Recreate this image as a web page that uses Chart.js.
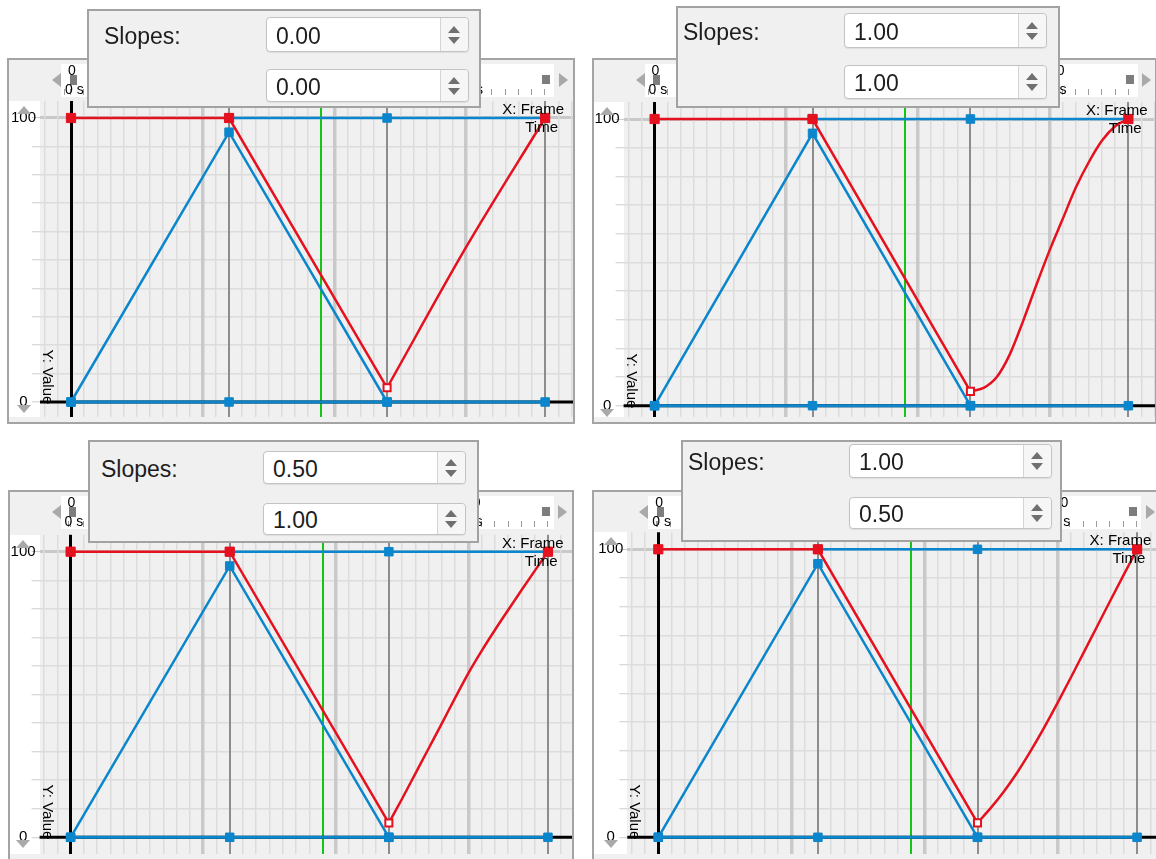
<!DOCTYPE html>
<html>
<head>
<meta charset="utf-8">
<title>Slopes</title>
<script src="https://cdn.jsdelivr.net/npm/chart.js"></script>
<style>
  html, body { margin: 0; padding: 0; background: #fff; }
  body { width: 1156px; height: 859px; position: relative; overflow: hidden; font-family: "Liberation Sans", Arial, sans-serif; }
  .frame { position: absolute; box-sizing: border-box; border: 2px solid #a4a4a4; background: #f0f0f0; overflow: hidden; }
  .strip { position: absolute; background: #fff; }
  .overlay { position: absolute; box-sizing: border-box; border: 2px solid #a2a2a2; background: #f0f0f0; z-index: 5; }
  .spin { position: absolute; box-sizing: border-box; border: 1px solid #c3c3c3; border-radius: 4px; background: #fff; box-shadow: 0 1px 1px rgba(0,0,0,.08); }
  .spin .btn { position: absolute; right: 0; top: 0; bottom: 0; width: 27px; border-left: 1px solid #d4d4d4; background: #f6f6f6; border-radius: 0 4px 4px 0; }
  .tri { position: absolute; width: 0; height: 0; }
  .lbl { position: absolute; white-space: nowrap; color: #000; line-height: 1; }
  canvas { position: absolute; left: 0; top: 0; }
</style>
</head>
<body>
<script>
// keyframes (x = frame, y = value)
const keyFrames = [0, 12, 24, 36];
const currentFrame = 19;
const blueRiseValues = [0, 95, 0];       // frames 0, 12, 24
const blueTopValues = [100, 100, 100];   // frames 12, 24, 36
const blueBaseValues = [0, 0, 0, 0];     // frames 0, 12, 24, 36
const redKeyValues = [100, 100, 5];      // frames 0, 12, 24
const yTickLabels = ['0', '100'];

// slope spin box values per panel
const slopeFirst = ['0.00', '1.00', '0.50', '1.00'];
const slopeSecond = ['0.00', '1.00', '1.00', '0.50'];

// red segment from frame 24 to 36
const curveFrames = [
  [24, 30, 36],
  [24, 25, 26, 27, 28, 29, 30, 31, 32, 33, 34, 35, 36],
  [24, 25, 26, 27, 28, 29, 30, 31, 32, 33, 34, 35, 36],
  [24, 25, 26, 27, 28, 29, 30, 31, 32, 33, 34, 35, 36]
];
const curveValues = [
  [5, 54.5, 100],
  [5, 6.2, 10, 18, 29.5, 42, 54, 65, 76, 85, 92.5, 97.5, 100],
  [5, 13.5, 22.3, 31.1, 39.9, 48.8, 57.5, 65.3, 72.6, 79.6, 86.5, 93.3, 100],
  [5, 10.2, 16, 22.6, 30, 38, 46.5, 55.3, 64.3, 73.3, 82.3, 91.2, 100]
];

// page layout of the four screenshots
const layouts = [
  { frame: [7, 58, 575, 424], overlay: [87, 9, 481, 108], axisX: 71, ppf: 13.17, y100: 118, y0: 402, spinX: [266, 469], spinY: [[17, 52], [69, 102]], slopesX: 104 },
  { frame: [592, 58, 1157, 424], overlay: [676, 6, 1060, 108], axisX: 654.6, ppf: 13.16, y100: 119, y0: 405.7, spinX: [844, 1047], spinY: [[13, 48], [65, 99]], slopesX: 683 },
  { frame: [8, 490, 574, 861], overlay: [88, 440, 479, 543], axisX: 70.6, ppf: 13.26, y100: 551.7, y0: 837.3, spinX: [263, 466], spinY: [[451, 484], [503, 535]], slopesX: 101 },
  { frame: [592, 490, 1170, 861], overlay: [681, 440, 1062, 542], axisX: 658.3, ppf: 13.3, y100: 549.3, y0: 837.3, spinX: [849, 1052], spinY: [[444, 478], [497, 529]], slopesX: 688 }
];

const RED = '#e5111f';
const BLUE = '#0b86cc';
const ARROW = '#a9a9a9';

function el(tag, cls, parent) {
  const e = document.createElement(tag);
  if (cls) e.className = cls;
  parent.appendChild(e);
  return e;
}
function box(e, x, y, w, h) {
  Object.assign(e.style, { left: x + 'px', top: y + 'px', width: w + 'px', height: h + 'px' });
  return e;
}
function tri(parent, dir, cx, cy, w, h, color) {
  const s = el('div', 'tri', parent).style;
  if (dir === 'up' || dir === 'down') {
    s.borderLeft = s.borderRight = (w / 2) + 'px solid transparent';
    s[dir === 'up' ? 'borderBottom' : 'borderTop'] = h + 'px solid ' + color;
  } else {
    s.borderTop = s.borderBottom = (h / 2) + 'px solid transparent';
    s[dir === 'left' ? 'borderRight' : 'borderLeft'] = w + 'px solid ' + color;
  }
  s.left = (cx - w / 2) + 'px';
  s.top = (cy - h / 2) + 'px';
}
function label(parent, str, x, y, align, size, rot) {
  const t = el('div', 'lbl', parent);
  t.textContent = str;
  t.style.fontSize = size + 'px';
  t.style.left = x + 'px';
  t.style.top = y + 'px';
  const tx = align === 'r' ? '-100%' : align === 'c' ? '-50%' : '0';
  t.style.transform = 'translate(' + tx + ',-50%)' + (rot || '');
  return t;
}
const pts = (xs, ys) => xs.map((x, k) => ({ x: x, y: ys[k] }));
const noPadding = s => { s.paddingLeft = s.paddingRight = s.paddingTop = s.paddingBottom = 0; };

// black value-0 line drawn over the grid, under the curves
const zeroLine = {
  id: 'zeroLine',
  beforeDatasetsDraw(chart) {
    const { ctx, chartArea, scales } = chart;
    const y = scales.y.getPixelForValue(0);
    ctx.save();
    ctx.strokeStyle = '#000';
    ctx.lineWidth = 3;
    ctx.beginPath();
    ctx.moveTo(chartArea.left, y);
    ctx.lineTo(chartArea.right, y);
    ctx.stroke();
    ctx.restore();
  }
};

function buildPanel(i) {
  const L = layouts[i];
  const [fl, ft, fr, fb] = L.frame;
  const inL = fl + 2, inT = ft + 2, inR = fr - 2, inB = fb - 2;
  const chartLeft = L.axisX - 31;
  const chartTop = L.y100 - 17;
  const chartBottom = inB - 5;
  const ppu = (L.y0 - L.y100) / 100;
  const lx = gx => gx - inL;
  const ly = gy => gy - inT;

  const frame = box(el('div', 'frame', document.body), fl, ft, fr - fl, fb - ft);

  // white strips: value axis and time ruler
  box(el('div', 'strip', frame), 0, ly(chartTop), chartLeft - inL, chartBottom - chartTop);
  const ruler = box(el('div', 'strip', frame), lx(L.axisX - 10), ly(ft + 6), 493, 33);
  const ticks = box(el('div', null, ruler), 0, 25, 493, 6);
  ticks.style.position = 'absolute';
  ticks.style.backgroundImage = 'repeating-linear-gradient(to right, #9c9c9c 0 1px, transparent 1px ' + L.ppf + 'px)';
  ticks.style.backgroundPosition = '9px 0';

  const canvas = el('canvas', null, frame);
  canvas.width = inR - inL;
  canvas.height = inB - inT;

  const xGridColor = c => {
    const v = c.tick ? c.tick.value : NaN;
    if (v === 0) return '#000';
    if (v === currentFrame) return '#16c416';
    if (v % 12 === 0) return '#8d8d8d';
    if (v % 10 === 0) return '#c9c9c9';
    return '#dcdcdc';
  };
  const xGridWidth = c => {
    const v = c.tick ? c.tick.value : NaN;
    if (v === 0) return 3;
    if (v === currentFrame) return 2;
    if (v % 12 === 0) return 2;
    if (v % 10 === 0) return 3.5;
    return 1.5;
  };
  const yGridColor = c => {
    const v = c.tick ? c.tick.value : NaN;
    if (v === 0) return 'rgba(0,0,0,0)';
    if (v === 100) return '#c9c9c9';
    return '#dcdcdc';
  };
  const yGridWidth = c => {
    const v = c.tick ? c.tick.value : NaN;
    return v === 100 ? 3 : 1.5;
  };

  const n = curveFrames[i].length;
  new Chart(canvas.getContext('2d'), {
    type: 'line',
    data: {
      datasets: [
        {
          data: pts(keyFrames.slice(0, 3), redKeyValues),
          borderColor: RED, borderWidth: 2.5, tension: 0,
          pointStyle: 'rect', pointRadius: [6.5, 6.5, 5],
          pointBackgroundColor: [RED, RED, '#fff'], pointBorderColor: RED, pointBorderWidth: [1, 1, 2]
        },
        {
          data: pts(curveFrames[i], curveValues[i]),
          borderColor: RED, borderWidth: 2.5, cubicInterpolationMode: 'monotone',
          pointStyle: 'rect', pointRadius: c => c.dataIndex === n - 1 ? 6.5 : 0,
          pointBackgroundColor: RED, pointBorderColor: RED, pointBorderWidth: 1
        },
        {
          data: pts(keyFrames.slice(0, 3), blueRiseValues),
          borderColor: BLUE, borderWidth: 2.5, tension: 0,
          pointStyle: 'rect', pointRadius: 6, pointBackgroundColor: BLUE, pointBorderColor: BLUE, pointBorderWidth: 1
        },
        {
          data: pts(keyFrames.slice(1), blueTopValues),
          borderColor: BLUE, borderWidth: 2.5, tension: 0,
          pointStyle: 'rect', pointRadius: 6, pointBackgroundColor: BLUE, pointBorderColor: BLUE, pointBorderWidth: 1
        },
        {
          data: pts(keyFrames, blueBaseValues),
          borderColor: BLUE, borderWidth: 3, tension: 0,
          pointStyle: 'rect', pointRadius: 6, pointBackgroundColor: BLUE, pointBorderColor: BLUE, pointBorderWidth: 1
        }
      ]
    },
    options: {
      responsive: false,
      animation: false,
      devicePixelRatio: 1,
      layout: { autoPadding: false, padding: { left: 0, right: 0, top: chartTop - inT, bottom: inB - chartBottom } },
      plugins: { legend: { display: false }, tooltip: { enabled: false } },
      scales: {
        x: {
          type: 'linear',
          min: -31 / L.ppf,
          max: (inR - L.axisX) / L.ppf,
          ticks: { display: false, stepSize: 1, includeBounds: false },
          grid: { color: xGridColor, lineWidth: xGridWidth, drawTicks: false },
          border: { display: false },
          afterFit: s => { s.height = 0; noPadding(s); }
        },
        y: {
          type: 'linear',
          min: -(chartBottom - L.y0) / ppu,
          max: 100 + 17 / ppu,
          ticks: {
            stepSize: 10, includeBounds: false, autoSkip: false,
            padding: -4, crossAlign: 'center', color: '#000',
            font: { family: 'Liberation Sans', size: 15 },
            callback: v => yTickLabels.includes(String(v)) ? String(v) : ''
          },
          grid: { z: -2, color: yGridColor, lineWidth: yGridWidth, tickLength: 8, tickColor: '#cdcdcd', tickWidth: 1 },
          border: { display: false },
          afterFit: s => { s.width = chartLeft - inL; noPadding(s); }
        }
      }
    },
    plugins: [zeroLine]
  });

  // scroll arrows and ruler handles
  tri(frame, 'up', lx(L.axisX - 47), ly(L.y100 - 8), 15, 8, ARROW);
  tri(frame, 'down', lx(L.axisX - 47), ly(L.y0 + 7), 15, 8, ARROW);
  tri(frame, 'left', lx(L.axisX - 14.5), ly(ft + 22), 9, 15, ARROW);
  tri(frame, 'right', lx(L.axisX + 492), ly(ft + 22), 9, 15, ARROW);
  box(el('div', 'tri', frame), lx(L.axisX - 1.5), ly(ft + 17), 7, 10).style.background = '#7d7d7d';
  box(el('div', 'tri', frame), lx(L.axisX + 471), ly(ft + 17), 8, 9).style.background = '#7d7d7d';

  // ruler labels
  label(frame, '0', lx(L.axisX - 3), ly(ft + 12), 'l', 14);
  label(frame, '0 s', lx(L.axisX - 6), ly(ft + 31), 'l', 14);
  label(frame, '30', lx(L.axisX + 410), ly(ft + 12), 'r', 14);
  label(frame, '1 s', lx(L.axisX + 412), ly(ft + 31), 'r', 14);

  // axis titles
  label(frame, 'X: Frame', lx(L.axisX + 493), ly(L.y100 - 10), 'r', 15);
  label(frame, 'Time', lx(L.axisX + 487), ly(L.y100 + 8), 'r', 15);
  label(frame, 'Y: Value', lx(L.axisX - 23), ly(L.y0 - 25), 'c', 15, ' rotate(90deg)');

  // slopes pop-up
  const [ol, ot, or, ob] = L.overlay;
  const ov = box(el('div', 'overlay', document.body), ol, ot, or - ol, ob - ot);
  const ox = gx => gx - ol - 2;
  const oy = gy => gy - ot - 2;
  const s1mid = (L.spinY[0][0] + L.spinY[0][1]) / 2;
  label(ov, 'Slopes:', ox(L.slopesX), oy(s1mid + 1), 'l', 23).style.color = '#1d1d1d';
  [slopeFirst[i], slopeSecond[i]].forEach((val, k) => {
    const [t, b] = L.spinY[k];
    const sp = box(el('div', 'spin', ov), ox(L.spinX[0]), oy(t), L.spinX[1] - L.spinX[0], b - t);
    const h = b - t - 2;
    label(sp, val, 9, h / 2 + 1, 'l', 23).style.color = '#1d1d1d';
    const btn = el('div', 'btn', sp);
    tri(btn, 'up', 13, h / 2 - 5.5, 12, 7, '#707070');
    tri(btn, 'down', 13, h / 2 + 5.5, 12, 7, '#707070');
  });
}

for (let i = 0; i < layouts.length; i++) buildPanel(i);
</script>
</body>
</html>
